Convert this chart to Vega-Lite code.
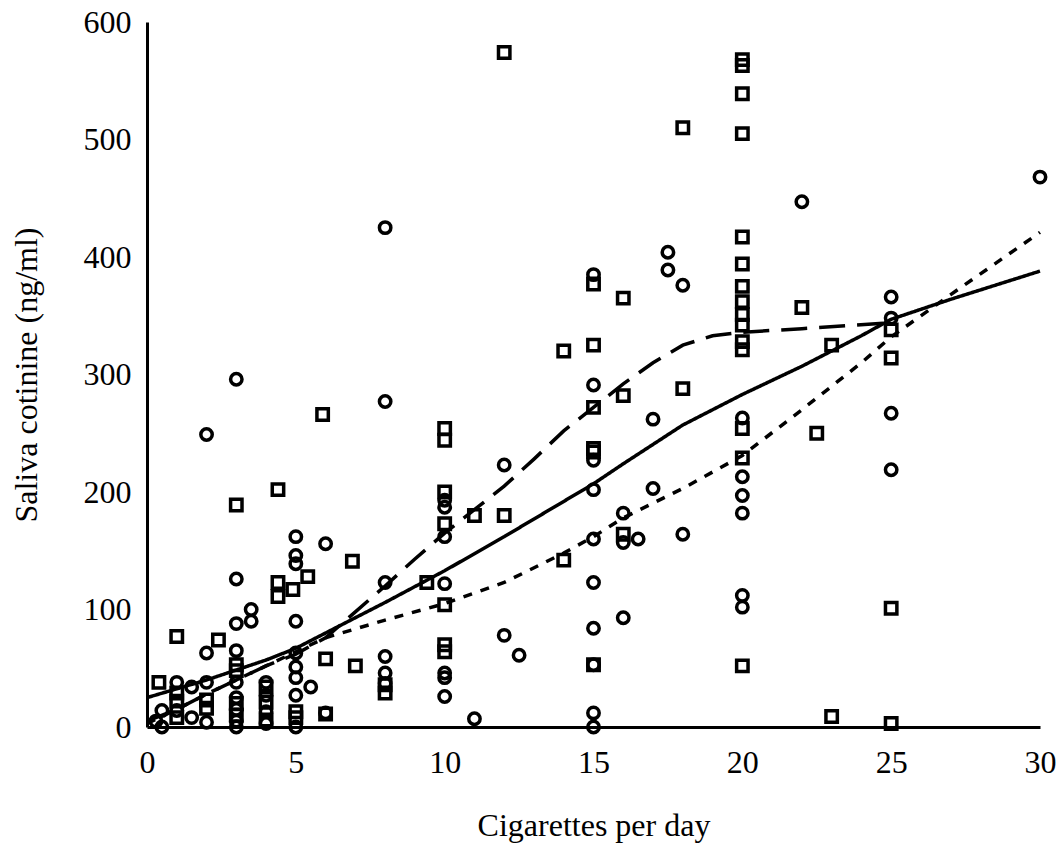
{
  "$schema": "https://vega.github.io/schema/vega-lite/v6.json",
  "autosize": {"type": "none"},
  "padding": {"left": 147, "top": 22, "right": 19, "bottom": 126},
  "width": 893,
  "height": 705,
  "background": "white",
  "config": {
    "view": {"stroke": null},
    "axis": {
      "grid": false,
      "ticks": false,
      "domainColor": "black",
      "domainWidth": 3,
      "labelFont": "Liberation Serif",
      "labelFontSize": 32,
      "labelColor": "black",
      "titleFont": "Liberation Serif",
      "titleFontSize": 32,
      "titleFontWeight": "normal",
      "titleColor": "black"
    }
  },
  "datasets": {
    "pts": [
      {"x": 30, "y": 468, "g": "circle"}, {"x": 22, "y": 447, "g": "circle"}, {"x": 25, "y": 366, "g": "circle"}, {"x": 25, "y": 348, "g": "circle"}, {"x": 25, "y": 267, "g": "circle"}, {"x": 25, "y": 219, "g": "circle"},
      {"x": 20, "y": 263, "g": "circle"}, {"x": 20, "y": 213, "g": "circle"}, {"x": 20, "y": 197, "g": "circle"}, {"x": 20, "y": 182, "g": "circle"}, {"x": 20, "y": 112, "g": "circle"}, {"x": 20, "y": 102, "g": "circle"},
      {"x": 17.5, "y": 404, "g": "circle"}, {"x": 17.5, "y": 389, "g": "circle"}, {"x": 18, "y": 376, "g": "circle"}, {"x": 17, "y": 262, "g": "circle"}, {"x": 17, "y": 203, "g": "circle"}, {"x": 18, "y": 164, "g": "circle"}, {"x": 16, "y": 182, "g": "circle"}, {"x": 16, "y": 157, "g": "circle"}, {"x": 16.5, "y": 160, "g": "circle"}, {"x": 16, "y": 93, "g": "circle"},
      {"x": 15, "y": 385, "g": "circle"}, {"x": 15, "y": 291, "g": "circle"}, {"x": 15, "y": 227, "g": "circle"}, {"x": 15, "y": 202, "g": "circle"}, {"x": 15, "y": 160, "g": "circle"}, {"x": 15, "y": 123, "g": "circle"}, {"x": 15, "y": 84, "g": "circle"}, {"x": 15, "y": 53, "g": "circle"}, {"x": 15, "y": 12, "g": "circle"}, {"x": 15, "y": 0, "g": "circle"},
      {"x": 12, "y": 223, "g": "circle"}, {"x": 12, "y": 78, "g": "circle"}, {"x": 12.5, "y": 61, "g": "circle"}, {"x": 11, "y": 7, "g": "circle"},
      {"x": 10, "y": 193, "g": "circle"}, {"x": 10, "y": 187, "g": "circle"}, {"x": 10, "y": 162, "g": "circle"}, {"x": 10, "y": 122, "g": "circle"}, {"x": 10, "y": 46, "g": "circle"}, {"x": 10, "y": 42, "g": "circle"}, {"x": 10, "y": 26, "g": "circle"},
      {"x": 8, "y": 425, "g": "circle"}, {"x": 8, "y": 277, "g": "circle"}, {"x": 8, "y": 123, "g": "circle"}, {"x": 8, "y": 60, "g": "circle"}, {"x": 8, "y": 46, "g": "circle"}, {"x": 8, "y": 37, "g": "circle"},
      {"x": 6, "y": 156, "g": "circle"}, {"x": 6, "y": 12, "g": "circle"}, {"x": 5.5, "y": 34, "g": "circle"},
      {"x": 5, "y": 162, "g": "circle"}, {"x": 5, "y": 146, "g": "circle"}, {"x": 5, "y": 139, "g": "circle"}, {"x": 5, "y": 90, "g": "circle"}, {"x": 5, "y": 63, "g": "circle"}, {"x": 5, "y": 51, "g": "circle"}, {"x": 5, "y": 42, "g": "circle"}, {"x": 5, "y": 27, "g": "circle"}, {"x": 5, "y": 0, "g": "circle"},
      {"x": 4, "y": 38, "g": "circle"}, {"x": 4, "y": 27, "g": "circle"}, {"x": 4, "y": 13, "g": "circle"}, {"x": 4, "y": 3, "g": "circle"},
      {"x": 3.5, "y": 100, "g": "circle"}, {"x": 3.5, "y": 90, "g": "circle"}, {"x": 3, "y": 296, "g": "circle"}, {"x": 3, "y": 126, "g": "circle"}, {"x": 3, "y": 88, "g": "circle"}, {"x": 3, "y": 65, "g": "circle"}, {"x": 3, "y": 38, "g": "circle"}, {"x": 3, "y": 25, "g": "circle"}, {"x": 3, "y": 15, "g": "circle"}, {"x": 3, "y": 5, "g": "circle"}, {"x": 3, "y": 0, "g": "circle"},
      {"x": 2, "y": 249, "g": "circle"}, {"x": 2, "y": 63, "g": "circle"}, {"x": 2, "y": 38, "g": "circle"}, {"x": 2, "y": 4, "g": "circle"}, {"x": 1.5, "y": 34, "g": "circle"}, {"x": 1.5, "y": 8, "g": "circle"}, {"x": 1, "y": 38, "g": "circle"}, {"x": 1, "y": 14, "g": "circle"}, {"x": 0.5, "y": 14, "g": "circle"}, {"x": 0.5, "y": 0, "g": "circle"}, {"x": 0.3, "y": 5, "g": "circle"},
      {"x": 12, "y": 574, "g": "square"}, {"x": 20, "y": 568, "g": "square"}, {"x": 20, "y": 563, "g": "square"}, {"x": 20, "y": 539, "g": "square"}, {"x": 20, "y": 505, "g": "square"}, {"x": 18, "y": 510, "g": "square"},
      {"x": 20, "y": 417, "g": "square"}, {"x": 20, "y": 394, "g": "square"}, {"x": 20, "y": 375, "g": "square"}, {"x": 20, "y": 362, "g": "square"}, {"x": 20, "y": 351, "g": "square"}, {"x": 20, "y": 342, "g": "square"}, {"x": 20, "y": 328, "g": "square"}, {"x": 20, "y": 321, "g": "square"},
      {"x": 22, "y": 357, "g": "square"}, {"x": 16, "y": 365, "g": "square"}, {"x": 15, "y": 377, "g": "square"}, {"x": 14, "y": 320, "g": "square"}, {"x": 15, "y": 325, "g": "square"}, {"x": 18, "y": 288, "g": "square"}, {"x": 16, "y": 282, "g": "square"}, {"x": 15, "y": 272, "g": "square"}, {"x": 15, "y": 237, "g": "square"}, {"x": 15, "y": 234, "g": "square"},
      {"x": 20, "y": 254, "g": "square"}, {"x": 20, "y": 229, "g": "square"}, {"x": 22.5, "y": 250, "g": "square"}, {"x": 23, "y": 325, "g": "square"}, {"x": 25, "y": 338, "g": "square"}, {"x": 25, "y": 314, "g": "square"}, {"x": 25, "y": 101, "g": "square"}, {"x": 25, "y": 3, "g": "square"}, {"x": 23, "y": 9, "g": "square"}, {"x": 20, "y": 52, "g": "square"},
      {"x": 12, "y": 180, "g": "square"}, {"x": 11, "y": 180, "g": "square"}, {"x": 10, "y": 254, "g": "square"}, {"x": 10, "y": 244, "g": "square"}, {"x": 10, "y": 200, "g": "square"}, {"x": 10, "y": 173, "g": "square"}, {"x": 10, "y": 104, "g": "square"}, {"x": 10, "y": 70, "g": "square"}, {"x": 10, "y": 64, "g": "square"},
      {"x": 14, "y": 142, "g": "square"}, {"x": 15, "y": 53, "g": "square"}, {"x": 16, "y": 164, "g": "square"}, {"x": 9.4, "y": 123, "g": "square"}, {"x": 8, "y": 29, "g": "square"}, {"x": 8, "y": 36, "g": "square"},
      {"x": 6.9, "y": 141, "g": "square"}, {"x": 7, "y": 52, "g": "square"}, {"x": 5.9, "y": 266, "g": "square"}, {"x": 6, "y": 58, "g": "square"}, {"x": 5.4, "y": 128, "g": "square"}, {"x": 4.4, "y": 202, "g": "square"},
      {"x": 3, "y": 189, "g": "square"}, {"x": 4.4, "y": 123, "g": "square"}, {"x": 4.4, "y": 111, "g": "square"}, {"x": 4.9, "y": 117, "g": "square"},
      {"x": 5, "y": 13, "g": "square"}, {"x": 5, "y": 8, "g": "square"}, {"x": 6, "y": 11, "g": "square"},
      {"x": 2.4, "y": 74, "g": "square"}, {"x": 1, "y": 77, "g": "square"}, {"x": 0.4, "y": 38, "g": "square"},
      {"x": 3, "y": 53, "g": "square"}, {"x": 3, "y": 48, "g": "square"}, {"x": 3, "y": 20, "g": "square"}, {"x": 3, "y": 10, "g": "square"}, {"x": 4, "y": 34, "g": "square"}, {"x": 4, "y": 21, "g": "square"}, {"x": 4, "y": 6, "g": "square"},
      {"x": 1, "y": 29, "g": "square"}, {"x": 2, "y": 23, "g": "square"}, {"x": 2, "y": 16, "g": "square"}, {"x": 1, "y": 22, "g": "square"}, {"x": 1, "y": 8, "g": "square"}
    ],
    "curves": [
      {"x": 0, "y": 25, "c": "all"}, {"x": 2, "y": 40, "c": "all"}, {"x": 4, "y": 57, "c": "all"}, {"x": 5, "y": 67, "c": "all"}, {"x": 6, "y": 80, "c": "all"}, {"x": 8, "y": 106, "c": "all"}, {"x": 10, "y": 133, "c": "all"}, {"x": 12, "y": 162, "c": "all"}, {"x": 14, "y": 192, "c": "all"}, {"x": 15, "y": 207, "c": "all"}, {"x": 16, "y": 224, "c": "all"}, {"x": 18, "y": 257, "c": "all"}, {"x": 20, "y": 283, "c": "all"}, {"x": 22, "y": 307, "c": "all"}, {"x": 24, "y": 333, "c": "all"}, {"x": 25, "y": 347, "c": "all"}, {"x": 27, "y": 364, "c": "all"}, {"x": 30, "y": 388, "c": "all"},
      {"x": 0, "y": 5, "c": "sq"}, {"x": 1, "y": 15, "c": "sq"}, {"x": 2, "y": 28, "c": "sq"}, {"x": 3, "y": 40, "c": "sq"}, {"x": 4, "y": 52, "c": "sq"}, {"x": 5, "y": 62, "c": "sq"}, {"x": 6, "y": 76, "c": "sq"}, {"x": 7, "y": 98, "c": "sq"}, {"x": 8, "y": 120, "c": "sq"}, {"x": 9, "y": 143, "c": "sq"}, {"x": 10, "y": 165, "c": "sq"}, {"x": 11, "y": 185, "c": "sq"}, {"x": 12, "y": 205, "c": "sq"}, {"x": 13, "y": 228, "c": "sq"}, {"x": 14, "y": 252, "c": "sq"}, {"x": 15, "y": 272, "c": "sq"}, {"x": 16, "y": 292, "c": "sq"}, {"x": 17, "y": 310, "c": "sq"}, {"x": 18, "y": 325, "c": "sq"}, {"x": 19, "y": 333, "c": "sq"}, {"x": 20, "y": 336, "c": "sq"}, {"x": 22, "y": 339, "c": "sq"}, {"x": 25, "y": 344, "c": "sq"},
      {"x": 0, "y": 3, "c": "ci"}, {"x": 1, "y": 15, "c": "ci"}, {"x": 2, "y": 28, "c": "ci"}, {"x": 3, "y": 40, "c": "ci"}, {"x": 4, "y": 52, "c": "ci"}, {"x": 5, "y": 64, "c": "ci"}, {"x": 6, "y": 76, "c": "ci"}, {"x": 8, "y": 91, "c": "ci"}, {"x": 10, "y": 105, "c": "ci"}, {"x": 12, "y": 123, "c": "ci"}, {"x": 14, "y": 148, "c": "ci"}, {"x": 15, "y": 162, "c": "ci"}, {"x": 16, "y": 178, "c": "ci"}, {"x": 18, "y": 203, "c": "ci"}, {"x": 20, "y": 231, "c": "ci"}, {"x": 22, "y": 270, "c": "ci"}, {"x": 24, "y": 310, "c": "ci"}, {"x": 25, "y": 332, "c": "ci"}, {"x": 27, "y": 368, "c": "ci"}, {"x": 30, "y": 421, "c": "ci"}
    ]
  },
  "layer": [
    {
      "data": {"name": "pts"},
      "mark": {"type": "point", "filled": false, "stroke": "black", "strokeWidth": 3.5, "size": 130, "opacity": 1, "clip": false},
      "encoding": {
        "x": {"field": "x", "type": "quantitative", "scale": {"domain": [0, 30], "nice": false, "zero": false},
          "axis": {"values": [0, 5, 10, 15, 20, 25, 30], "title": "Cigarettes per day", "labelPadding": 20, "titlePadding": 32, "labelFlush": false}},
        "y": {"field": "y", "type": "quantitative", "scale": {"domain": [0, 600], "nice": false},
          "axis": {"values": [0, 100, 200, 300, 400, 500, 600], "title": "Saliva cotinine (ng/ml)", "labelPadding": 16, "titlePadding": 40, "labelFlush": false}},
        "shape": {"field": "g", "type": "nominal", "scale": {"domain": ["circle", "square"], "range": ["circle", "square"]}, "legend": null}
      }
    },
    {
      "data": {"name": "curves"},
      "mark": {"type": "line", "stroke": "black", "strokeWidth": 3.5},
      "encoding": {
        "x": {"field": "x", "type": "quantitative"},
        "y": {"field": "y", "type": "quantitative"},
        "detail": {"field": "c", "type": "nominal"},
        "strokeDash": {"field": "c", "type": "nominal", "scale": {"domain": ["all", "sq", "ci"], "range": [[1, 0], [26, 12], [9, 9]]}, "legend": null}
      }
    }
  ]
}
